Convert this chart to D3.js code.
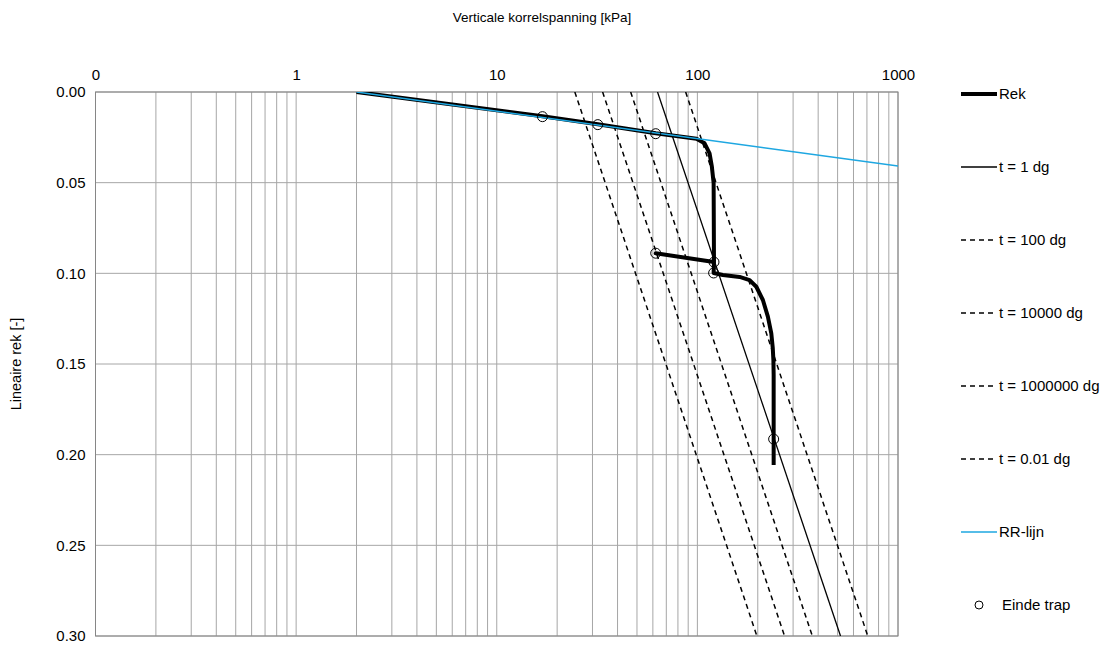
<!DOCTYPE html>
<html lang="nl">
<head>
<meta charset="UTF-8">
<title>Rek</title>
<script src="https://cdn.jsdelivr.net/npm/d3@7/dist/d3.min.js"></script>
<style>
  body { margin: 0; background: #fff; }
  text { font-family: "Liberation Sans", Arial, sans-serif; font-size: 15px; fill: #000; }
</style>
</head>
<body>
<svg width="1115" height="649"></svg>
<script>
// x-as tick waarden en labels (label "0" staat bij 0.1)
var xTicks = [0.1, 1, 10, 100, 1000]
var xTickLabels = ['0', '1', '10', '100', '1000']
var yTicks = [0, 0.05, 0.10, 0.15, 0.20, 0.25, 0.30]

// Rek: spanning [kPa] en rek [-]
var rekSigma = [2, 16.9, 31.9, 62, 99, 108.6, 115, 118.1, 120.5, 121, 62, 121, 120.5, 134, 162.4, 182.1, 196.7, 212.1, 224.6, 233.6, 237.5, 239.3, 240, 240, 240]
var rekEps = [0, 0.0134, 0.0178, 0.0228, 0.0258, 0.0283, 0.0338, 0.0412, 0.0502, 0.0938, 0.0889, 0.0938, 0.0998, 0.1009, 0.1020, 0.1037, 0.1074, 0.1147, 0.1239, 0.1331, 0.1410, 0.1480, 0.1560, 0.1914, 0.2057]

// Einde trap
var trapSigma = [16.9, 31.9, 62, 121, 62, 120.5, 240]
var trapEps = [0.0136, 0.0180, 0.0230, 0.0938, 0.0889, 0.0998, 0.1914]

// isotachen: spanning bij rek 0 en bij rek 0.30
var isoNames = ['t = 1 dg', 't = 100 dg', 't = 10000 dg', 't = 1000000 dg', 't = 0.01 dg']
var isoSigmaTop = [63.3, 46.5, 33.7, 24.5, 87.4]
var isoSigmaBottom = [517, 374, 272, 198, 707]
var isoEps = [0, 0.30]

// RR-lijn
var rrSigma = [2, 1000]
var rrEps = [0, 0.0408]

var svg = d3.select('svg')
var pLeft = 95.5, pRight = 898, pTop = 92, pBottom = 636

var x = d3.scaleLog().domain([0.1, 1000]).range([pLeft, pRight])
var y = d3.scaleLinear().domain([0, 0.3]).range([pTop, pBottom])

// rasterlijnen
var grid = svg.append('g')
var vLines = []
for (var k = -1; k <= 2; k++) {
    for (var m = 1; m <= 9; m++) vLines.push(m * Math.pow(10, k))
}
vLines.push(1000)
grid.selectAll('line.v').data(vLines).enter().append('line')
    .attr('x1', d => x(d)).attr('x2', d => x(d))
    .attr('y1', pTop).attr('y2', pBottom)
    .attr('stroke', '#a6a6a6').attr('stroke-width', 1)
grid.selectAll('line.h').data(yTicks).enter().append('line')
    .attr('x1', pLeft).attr('x2', pRight)
    .attr('y1', d => y(d)).attr('y2', d => y(d))
    .attr('stroke', '#a6a6a6').attr('stroke-width', 1)
svg.append('rect').attr('x', pLeft).attr('y', pTop)
    .attr('width', pRight - pLeft).attr('height', pBottom - pTop)
    .attr('fill', 'none').attr('stroke', '#868686').attr('stroke-width', 1)

// assen
var axX = svg.append('g').attr('transform', 'translate(0,' + pTop + ')')
    .call(d3.axisTop(x).tickValues(xTicks).tickSize(0).tickPadding(12)
        .tickFormat((d, i) => xTickLabels[i]))
var axY = svg.append('g').attr('transform', 'translate(' + pLeft + ',0)')
    .call(d3.axisLeft(y).tickValues(yTicks).tickSize(0).tickPadding(10)
        .tickFormat(d3.format('.2f')))
axX.select('.domain').remove()
axY.select('.domain').remove()
svg.selectAll('.tick text').attr('font-family', '"Liberation Sans", Arial, sans-serif').attr('font-size', 15)

svg.append('text').attr('x', 542).attr('y', 22).attr('text-anchor', 'middle')
    .style('font-size', '13.5px').text('Verticale korrelspanning [kPa]')
svg.append('text').attr('transform', 'translate(21,364) rotate(-90)')
    .attr('text-anchor', 'middle').style('font-size', '14.5px').text('Lineaire rek [-]')

svg.append('clipPath').attr('id', 'clip').append('rect')
    .attr('x', pLeft).attr('y', pTop).attr('width', pRight - pLeft).attr('height', pBottom - pTop)
var plot = svg.append('g').attr('clip-path', 'url(#clip)')
var line = d3.line().x(d => x(d[0])).y(d => y(d[1]))

// isotachen
isoNames.forEach(function (n, i) {
    var pts = [[isoSigmaTop[i], isoEps[0]], [isoSigmaBottom[i], isoEps[1]]]
    plot.append('path').attr('d', line(pts))
        .attr('fill', 'none').attr('stroke', '#000')
        .attr('stroke-width', i == 0 ? 1.3 : 1.5)
        .attr('stroke-dasharray', i == 0 ? null : '5,4')
})

// Rek
plot.append('path').attr('d', line(rekSigma.map((s, i) => [s, rekEps[i]])))
    .attr('fill', 'none').attr('stroke', '#000').attr('stroke-width', 4)
    .attr('stroke-linejoin', 'round')

// RR-lijn
plot.append('path').attr('d', line(rrSigma.map((s, i) => [s, rrEps[i]])))
    .attr('fill', 'none').attr('stroke', '#1ea7e1').attr('stroke-width', 1.5)

// Einde trap
plot.selectAll('circle').data(trapSigma).enter().append('circle')
    .attr('cx', d => x(d)).attr('cy', (d, i) => y(trapEps[i])).attr('r', 5)
    .attr('fill', 'none').attr('stroke', '#000').attr('stroke-width', 1)

// legenda
var legNames = ['Rek'].concat(isoNames, ['RR-lijn', 'Einde trap'])
var leg = svg.append('g')
legNames.forEach(function (n, i) {
    var ly = 94 + i * 73
    if (i == legNames.length - 1) {
        leg.append('circle').attr('cx', 979).attr('cy', ly).attr('r', 4)
            .attr('fill', 'none').attr('stroke', '#000').attr('stroke-width', 1)
        leg.append('text').attr('x', 1002).attr('y', ly).attr('dy', '0.35em').text(n)
        return
    }
    var l = leg.append('line').attr('x1', 961).attr('x2', 997).attr('y1', ly).attr('y2', ly)
    if (i == 0) l.attr('stroke', '#000').attr('stroke-width', 4)
    else if (i == 1) l.attr('stroke', '#000').attr('stroke-width', 1.3)
    else if (i == legNames.length - 2) l.attr('stroke', '#1ea7e1').attr('stroke-width', 1.5)
    else l.attr('stroke', '#000').attr('stroke-width', 1.5).attr('stroke-dasharray', '5,4')
    leg.append('text').attr('x', 999).attr('y', ly).attr('dy', '0.35em').text(n)
})
</script>
</body>
</html>
